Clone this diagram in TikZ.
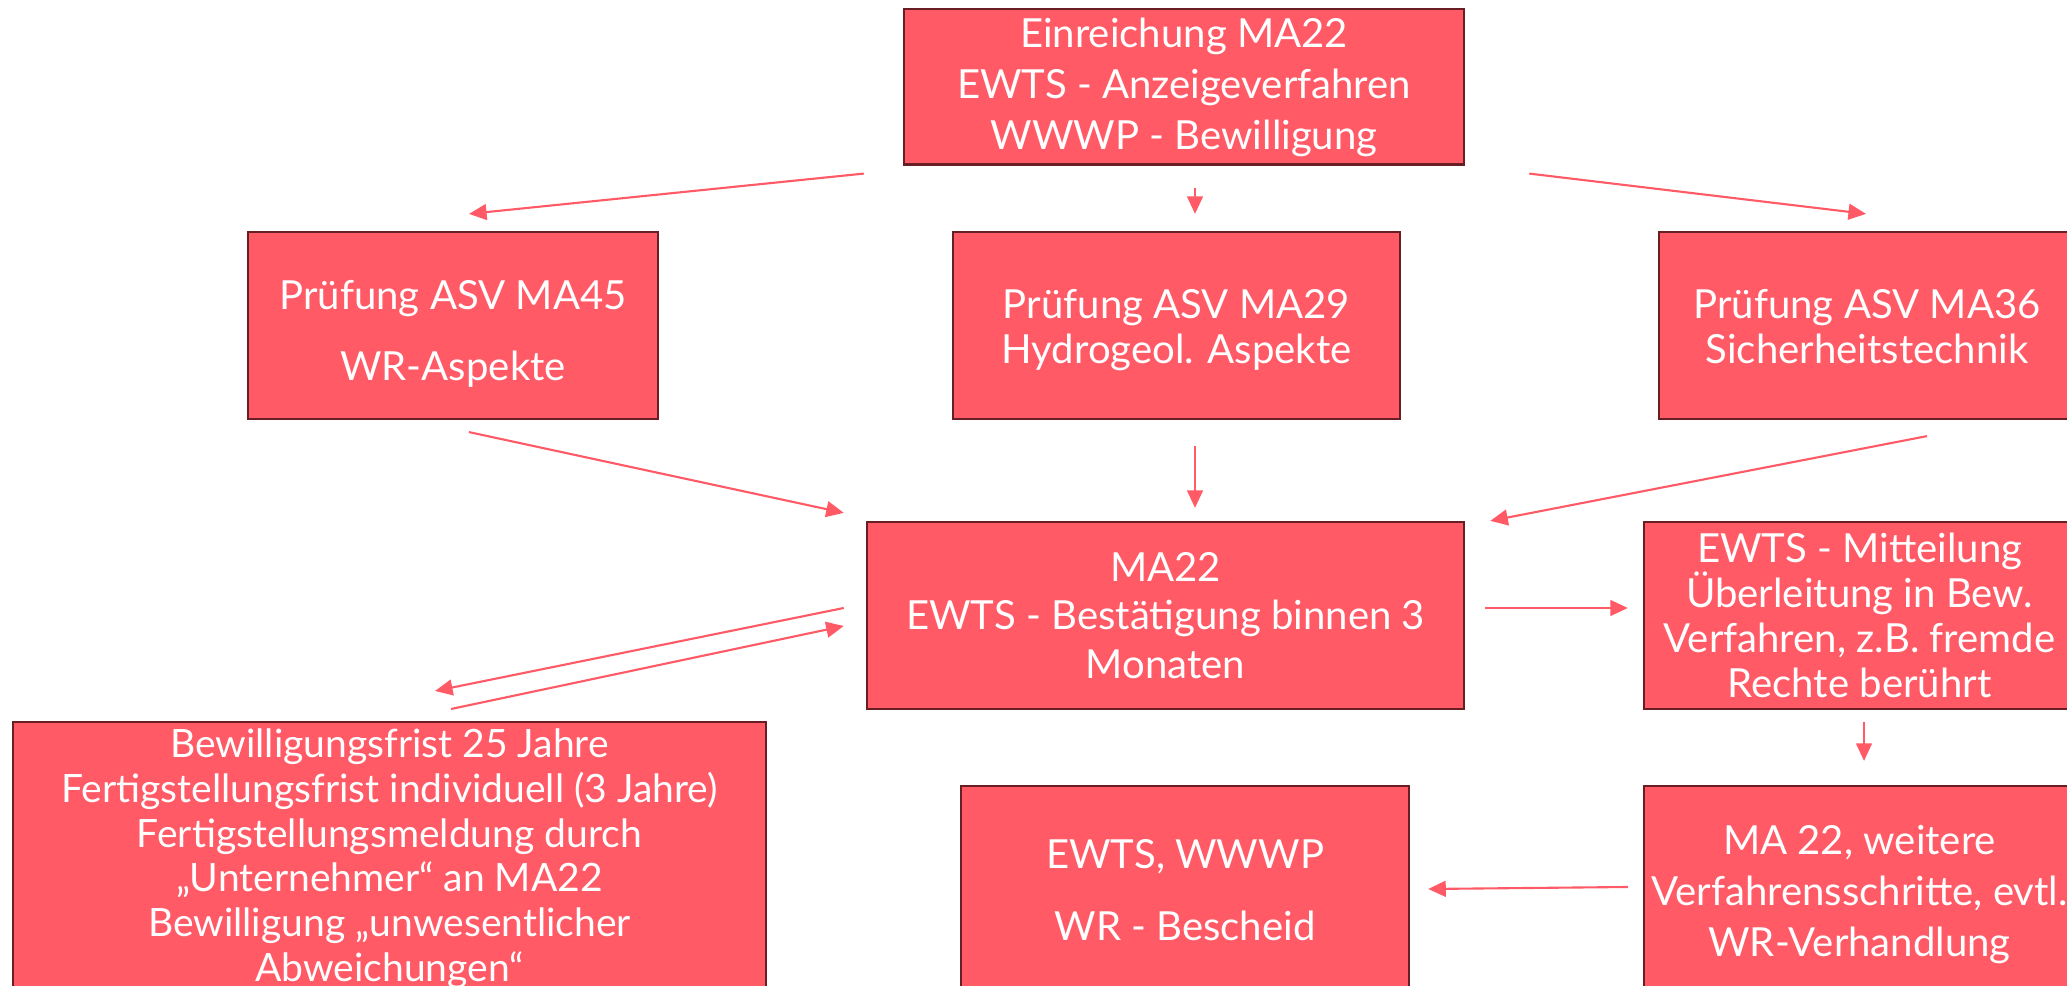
\documentclass[tikz,border=0pt]{standalone}
\usepackage{fontspec}
\setmainfont{Lato}
\usetikzlibrary{arrows.meta,calc}
\definecolor{boxred}{RGB}{255,90,102}
\definecolor{boxline}{RGB}{105,30,36}

\begin{document}
\begin{tikzpicture}[x=0.01cm, y=-0.01cm, >={Triangle[length=5pt,width=4.5pt]}]
	\tikzstyle{box}
	=[rectangle, draw=boxline, line width=0.6pt, fill=boxred, text=white,
	align=center, inner sep=0pt, font=\fontsize{11.4}{12.8}\selectfont]
	\tikzstyle{wide box}
	=[box, font=\fontsize{11.4}{14.5}\selectfont]
	\tikzstyle{link}
	=[->, draw=boxred, line width=0.6pt]

	\useasboundingbox (0,0) rectangle (2067,986);
	\clip (0,0) rectangle (2067,986);

	% Draw the first row
	\node[wide box, minimum width=5.6cm, minimum height=1.55cm] (einr) at (1184,87)
	{Einreichung MA22\\EWTS - Anzeigeverfahren\\WWWP - Bewilligung};

	% Draw the three checks
	\node[box, minimum width=4.1cm, minimum height=1.87cm] (ma45) at (453,325.5)
	{\rule{0pt}{13pt}Prüfung ASV MA45\\[7.5pt]WR-Aspekte};
	\node[box, minimum width=4.47cm, minimum height=1.87cm] (ma29) at (1176.5,325.5)
	{\rule{0pt}{11pt}Prüfung ASV MA29\\Hydrogeol. Aspekte};
	\node[box, minimum width=4.16cm, minimum height=1.87cm] (ma36) at (1867,325.5)
	{\rule{0pt}{9pt}Prüfung ASV MA36\\Sicherheitstechnik};

	% Draw the middle row
	\node[box, font=\fontsize{11.4}{13.7}\selectfont, minimum width=5.97cm,
	minimum height=1.87cm] (ma22) at (1165.5,615.5)
	{MA22\\EWTS - Bestätigung binnen 3\\Monaten};
	\node[box, minimum width=4.31cm, minimum height=1.87cm] (mitt) at (1859.5,615.5)
	{EWTS - Mitteilung\\Überleitung in Bew.\\Verfahren, z.B. fremde\\Rechte berührt};

	% Draw the last row
	\node[box, font=\fontsize{11.1}{12.7}\selectfont, minimum width=7.53cm,
	anchor=north] (frist) at (389.5,721)
	{\rule{0pt}{10.2pt}Bewilligungsfrist 25 Jahre\\Fertigstellungsfrist individuell (3 Jahre)\\
	Fertigstellungsmeldung durch\\„Unternehmer“ an MA22\\
	Bewilligung „unwesentlicher\\Abweichungen“\rule[-12pt]{0pt}{12pt}};
	\node[box, minimum width=4.48cm, minimum height=2.08cm] (wr) at (1185,890)
	{EWTS, WWWP\\[7.5pt]WR - Bescheid};
	\node[wide box, minimum width=4.31cm, minimum height=2.18cm] (weit) at (1859.5,895)
	{MA 22, weitere\\Verfahrensschritte, evtl.\\WR-Verhandlung};

	% Connect the boxes
	\draw[link] ($(einr.south west)+(-39,8)$) -- ($(ma45.north)+(16,-17)$);
	\draw[link] ($(einr.south)+(11,22)$) -- ($(ma29.north)+(18.5,-17)$);
	\draw[link] ($(einr.south east)+(64,8)$) -- ($(ma36.north)+(-1,-17)$);

	\draw[link] ($(ma45.south)+(16,12)$) -- ($(ma22.north west)+(-22,-8)$);
	\draw[link] ($(ma29.south)+(18.5,26)$) -- ($(ma22.north)+(29.5,-13)$);
	\draw[link] ($(ma36.south)+(60,16)$) -- ($(ma22.north east)+(25,0)$);

	\draw[link] ($(ma22.west)+(-22,-7.5)$) -- ($(frist.north)+(45.5,-30)$);
	\draw[link] ($(frist.north)+(61.5,-12)$) -- ($(ma22.west)+(-22,10.5)$);
	\draw[link] ($(ma22.east)+(20,-7.5)$) -- ($(mitt.west)+(-15,-7.5)$);

	\draw[link] ($(mitt.south)+(4.5,12)$) -- ($(weit.north)+(4.5,-24)$);
	\draw[link] ($(weit.west)+(-15,-8)$) -- ($(wr.east)+(18,-1)$);
\end{tikzpicture}
\end{document}
